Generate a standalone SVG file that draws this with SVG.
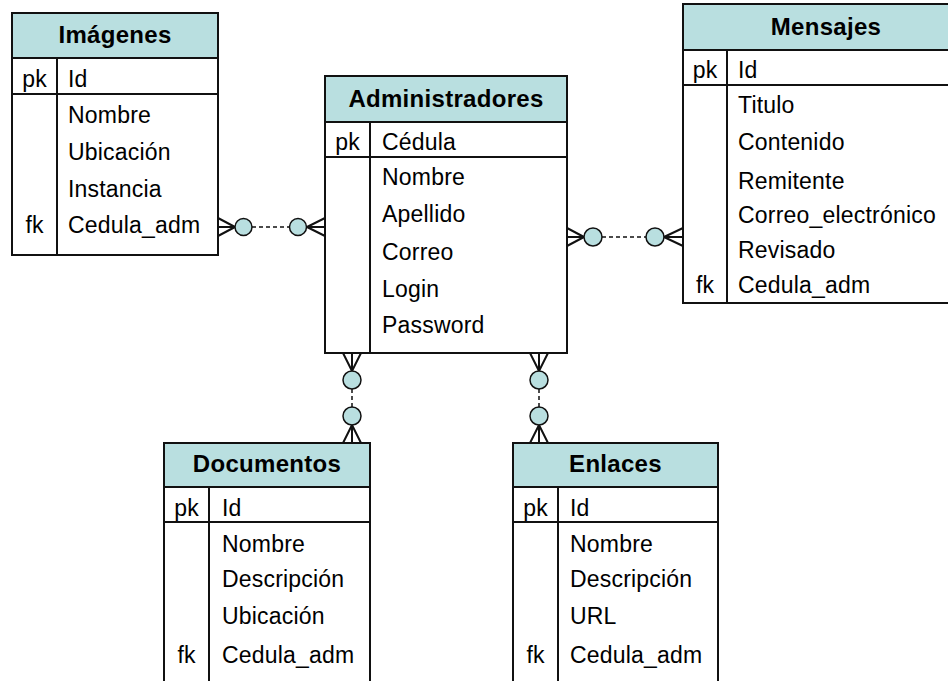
<svg xmlns="http://www.w3.org/2000/svg" width="948" height="681" viewBox="0 0 948 681">
  <style>
    .box { fill: #ffffff; stroke: #111111; stroke-width: 2; }
    .head { fill: #b9dfe0; stroke: #111111; stroke-width: 2; }
    .rule { stroke: #111111; stroke-width: 2; fill: none; }
    .title { font-family: "Liberation Sans", Arial, sans-serif; font-size: 24px; letter-spacing: 0.3px; font-weight: bold; fill: #000; text-anchor: middle; }
    .fld { font-family: "Liberation Sans", Arial, sans-serif; font-size: 23px; letter-spacing: 0.2px; fill: #000; }
    .key { font-family: "Liberation Sans", Arial, sans-serif; font-size: 23px; fill: #000; text-anchor: middle; }
    .foot { stroke: #111111; stroke-width: 2; fill: none; }
    .dash { stroke: #111111; stroke-width: 1.5; stroke-dasharray: 4 3; fill: none; }
    .opt { fill: #b9dfe0; stroke: #111111; stroke-width: 1.5; }
  </style>
  <rect width="948" height="681" fill="#ffffff"/>

  <!-- relationships -->
  <g id="connectors">
    <!-- Imágenes : Administradores -->
    <g id="rel-imagenes-admin">
      <path class="foot" d="M218,218 L235,227 M218,227 L235,227 M218,236 L235,227"/>
      <line class="dash" x1="252" y1="227" x2="289" y2="227"/>
      <circle class="opt" cx="243.5" cy="227" r="8.5"/>
      <circle class="opt" cx="298" cy="227" r="8.5"/>
      <path class="foot" d="M325,218 L307,227 M325,227 L307,227 M325,236 L307,227"/>
    </g>
    <!-- Administradores : Mensajes -->
    <g id="rel-admin-mensajes">
      <path class="foot" d="M567,228 L584,237 M567,237 L584,237 M567,246 L584,237"/>
      <line class="dash" x1="602" y1="237" x2="646" y2="237"/>
      <circle class="opt" cx="593" cy="237" r="9"/>
      <circle class="opt" cx="655" cy="237" r="9"/>
      <path class="foot" d="M683,228 L664,237 M683,237 L664,237 M683,246 L664,237"/>
    </g>
    <!-- Administradores : Documentos -->
    <g id="rel-admin-documentos">
      <path class="foot" d="M343,353 L352,371 M352,353 L352,371 M361,353 L352,371"/>
      <line class="dash" x1="352" y1="389" x2="352" y2="407"/>
      <circle class="opt" cx="352" cy="380" r="9"/>
      <circle class="opt" cx="352" cy="416" r="9"/>
      <path class="foot" d="M343,443 L352,425 M352,443 L352,425 M361,443 L352,425"/>
    </g>
    <!-- Administradores : Enlaces -->
    <g id="rel-admin-enlaces">
      <path class="foot" d="M530,353 L539,371 M539,353 L539,371 M548,353 L539,371"/>
      <line class="dash" x1="539" y1="389" x2="539" y2="407"/>
      <circle class="opt" cx="539" cy="380" r="9"/>
      <circle class="opt" cx="539" cy="416" r="9"/>
      <path class="foot" d="M530,443 L539,425 M539,443 L539,425 M548,443 L539,425"/>
    </g>
  </g>

  <!-- Imágenes -->
  <g id="imagenes">
    <rect class="box" x="12" y="13" width="206" height="242"/>
    <rect class="head" x="12" y="13" width="206" height="45"/>
    <line class="rule" x1="12" y1="94" x2="218" y2="94"/>
    <line class="rule" x1="57" y1="58" x2="57" y2="255"/>
    <text class="title" x="115" y="43">Imágenes</text>
    <text class="key" x="34.5" y="87">pk</text>
    <text class="fld" x="68" y="87">Id</text>
    <text class="fld" x="68" y="123">Nombre</text>
    <text class="fld" x="68" y="160">Ubicación</text>
    <text class="fld" x="68" y="197">Instancia</text>
    <text class="key" x="34.5" y="233">fk</text>
    <text class="fld" x="68" y="233">Cedula_adm</text>
  </g>

  <!-- Administradores -->
  <g id="administradores">
    <rect class="box" x="325" y="76" width="242" height="277"/>
    <rect class="head" x="325" y="76" width="242" height="46"/>
    <line class="rule" x1="325" y1="157" x2="567" y2="157"/>
    <line class="rule" x1="370" y1="122" x2="370" y2="353"/>
    <text class="title" x="446" y="107">Administradores</text>
    <text class="key" x="347.5" y="150">pk</text>
    <text class="fld" x="382" y="150">Cédula</text>
    <text class="fld" x="382" y="185">Nombre</text>
    <text class="fld" x="382" y="222">Apellido</text>
    <text class="fld" x="382" y="260">Correo</text>
    <text class="fld" x="382" y="297">Login</text>
    <text class="fld" x="382" y="333">Password</text>
  </g>

  <!-- Mensajes -->
  <g id="mensajes">
    <rect class="box" x="683" y="4" width="290" height="299"/>
    <rect class="head" x="683" y="4" width="290" height="46"/>
    <line class="rule" x1="683" y1="85" x2="973" y2="85"/>
    <line class="rule" x1="727" y1="50" x2="727" y2="303"/>
    <text class="title" x="826" y="35">Mensajes</text>
    <text class="key" x="705" y="78">pk</text>
    <text class="fld" x="738" y="78">Id</text>
    <text class="fld" x="738" y="113">Titulo</text>
    <text class="fld" x="738" y="150">Contenido</text>
    <text class="fld" x="738" y="189">Remitente</text>
    <text class="fld" x="738" y="223">Correo_electrónico</text>
    <text class="fld" x="738" y="258">Revisado</text>
    <text class="key" x="705" y="293">fk</text>
    <text class="fld" x="738" y="293">Cedula_adm</text>
  </g>

  <!-- Documentos -->
  <g id="documentos">
    <rect class="box" x="164" y="443" width="206" height="260"/>
    <rect class="head" x="164" y="443" width="206" height="44"/>
    <line class="rule" x1="164" y1="522" x2="370" y2="522"/>
    <line class="rule" x1="209" y1="487" x2="209" y2="703"/>
    <text class="title" x="267" y="472">Documentos</text>
    <text class="key" x="186.5" y="516">pk</text>
    <text class="fld" x="222" y="516">Id</text>
    <text class="fld" x="222" y="552">Nombre</text>
    <text class="fld" x="222" y="587">Descripción</text>
    <text class="fld" x="222" y="624">Ubicación</text>
    <text class="key" x="186.5" y="663">fk</text>
    <text class="fld" x="222" y="663">Cedula_adm</text>
  </g>

  <!-- Enlaces -->
  <g id="enlaces">
    <rect class="box" x="513" y="443" width="205" height="260"/>
    <rect class="head" x="513" y="443" width="205" height="44"/>
    <line class="rule" x1="513" y1="522" x2="718" y2="522"/>
    <line class="rule" x1="558" y1="487" x2="558" y2="703"/>
    <text class="title" x="615.5" y="472">Enlaces</text>
    <text class="key" x="535.5" y="516">pk</text>
    <text class="fld" x="570" y="516">Id</text>
    <text class="fld" x="570" y="552">Nombre</text>
    <text class="fld" x="570" y="587">Descripción</text>
    <text class="fld" x="570" y="624">URL</text>
    <text class="key" x="535.5" y="663">fk</text>
    <text class="fld" x="570" y="663">Cedula_adm</text>
  </g>
</svg>
